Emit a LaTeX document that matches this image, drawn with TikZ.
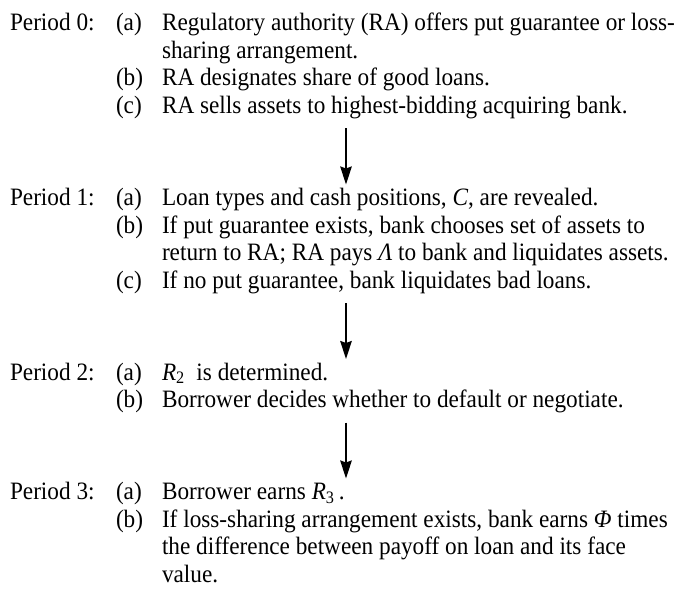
\documentclass[tikz,border=0pt]{standalone}
\usepackage{fontspec}
\setmainfont{Liberation Serif}[FakeStretch=0.93]
\usetikzlibrary{arrows.meta}
\newcommand{\var}[1]{{\itshape #1}}
\begin{document}
\begin{tikzpicture}[x=1pt,y=-1pt,
  txt/.style={anchor=base west, inner sep=0pt, outer sep=0pt,
    font=\fontsize{25}{27.5}\selectfont},
  flow/.style={line width=2pt, -{Stealth[length=18pt,width=11.5pt,inset=2pt]}}]
\useasboundingbox (0,0) rectangle (680,591);

% column positions: period label, item letter, item text
\def\xp{10}\def\xl{116}\def\xt{162}

% Period 0
\node[txt] (p0)   at (\xp,31)    {Period 0:};
\node[txt] (p0a)  at (\xl,31)    {(a)};
\node[txt] (p0at) at (\xt,31)    {Regulatory authority (RA) offers put guarantee or loss-};
\node[txt] (p0au) at (\xt,58.5)  {sharing arrangement.};
\node[txt] (p0b)  at (\xl,86)    {(b)};
\node[txt] (p0bt) at (\xt,86)    {RA designates share of good loans.};
\node[txt] (p0c)  at (\xl,113.5) {(c)};
\node[txt] (p0ct) at (\xt,113.5) {RA sells assets to highest-bidding acquiring bank.};

% Period 1
\node[txt] (p1)   at (\xp,205.5) {Period 1:};
\node[txt] (p1a)  at (\xl,205.5) {(a)};
\node[txt] (p1at) at (\xt,205.5) {Loan types and cash positions, \var{C}, are revealed.};
\node[txt] (p1b)  at (\xl,233)   {(b)};
\node[txt] (p1bt) at (\xt,233)   {If put guarantee exists, bank chooses set of assets to};
\node[txt] (p1bu) at (\xt,260.5) {return to RA; RA pays \var{Λ} to bank and liquidates assets.};
\node[txt] (p1c)  at (\xl,288)   {(c)};
\node[txt] (p1ct) at (\xt,288)   {If no put guarantee, bank liquidates bad loans.};

% Period 2
\node[txt] (p2)   at (\xp,380)   {Period 2:};
\node[txt] (p2a)  at (\xl,380)   {(a)};
\node[txt] (p2at) at (\xt,380)   {\var{R}\textsubscript{2}\ \ is determined.};
\node[txt] (p2b)  at (\xl,407.5) {(b)};
\node[txt] (p2bt) at (\xt,407.5) {Borrower decides whether to default or negotiate.};

% Period 3
\node[txt] (p3)   at (\xp,499.5) {Period 3:};
\node[txt] (p3a)  at (\xl,499.5) {(a)};
\node[txt] (p3at) at (\xt,499.5) {Borrower earns \var{R}\textsubscript{3}\,.};
\node[txt] (p3b)  at (\xl,527)   {(b)};
\node[txt] (p3bt) at (\xt,527)   {If loss-sharing arrangement exists, bank earns \var{Φ} times};
\node[txt] (p3bu) at (\xt,554.5) {the difference between payoff on loan and its face};
\node[txt] (p3bv) at (\xt,582)   {value.};

% arrows between periods
\coordinate (s01) at (346,128.5); \coordinate (e01) at (346,184.5);
\coordinate (s12) at (346,303);   \coordinate (e12) at (346,359);
\coordinate (s23) at (346,422.5); \coordinate (e23) at (346,478.5);
\draw[flow] (s01) -- (e01);
\draw[flow] (s12) -- (e12);
\draw[flow] (s23) -- (e23);
\end{tikzpicture}
\end{document}
